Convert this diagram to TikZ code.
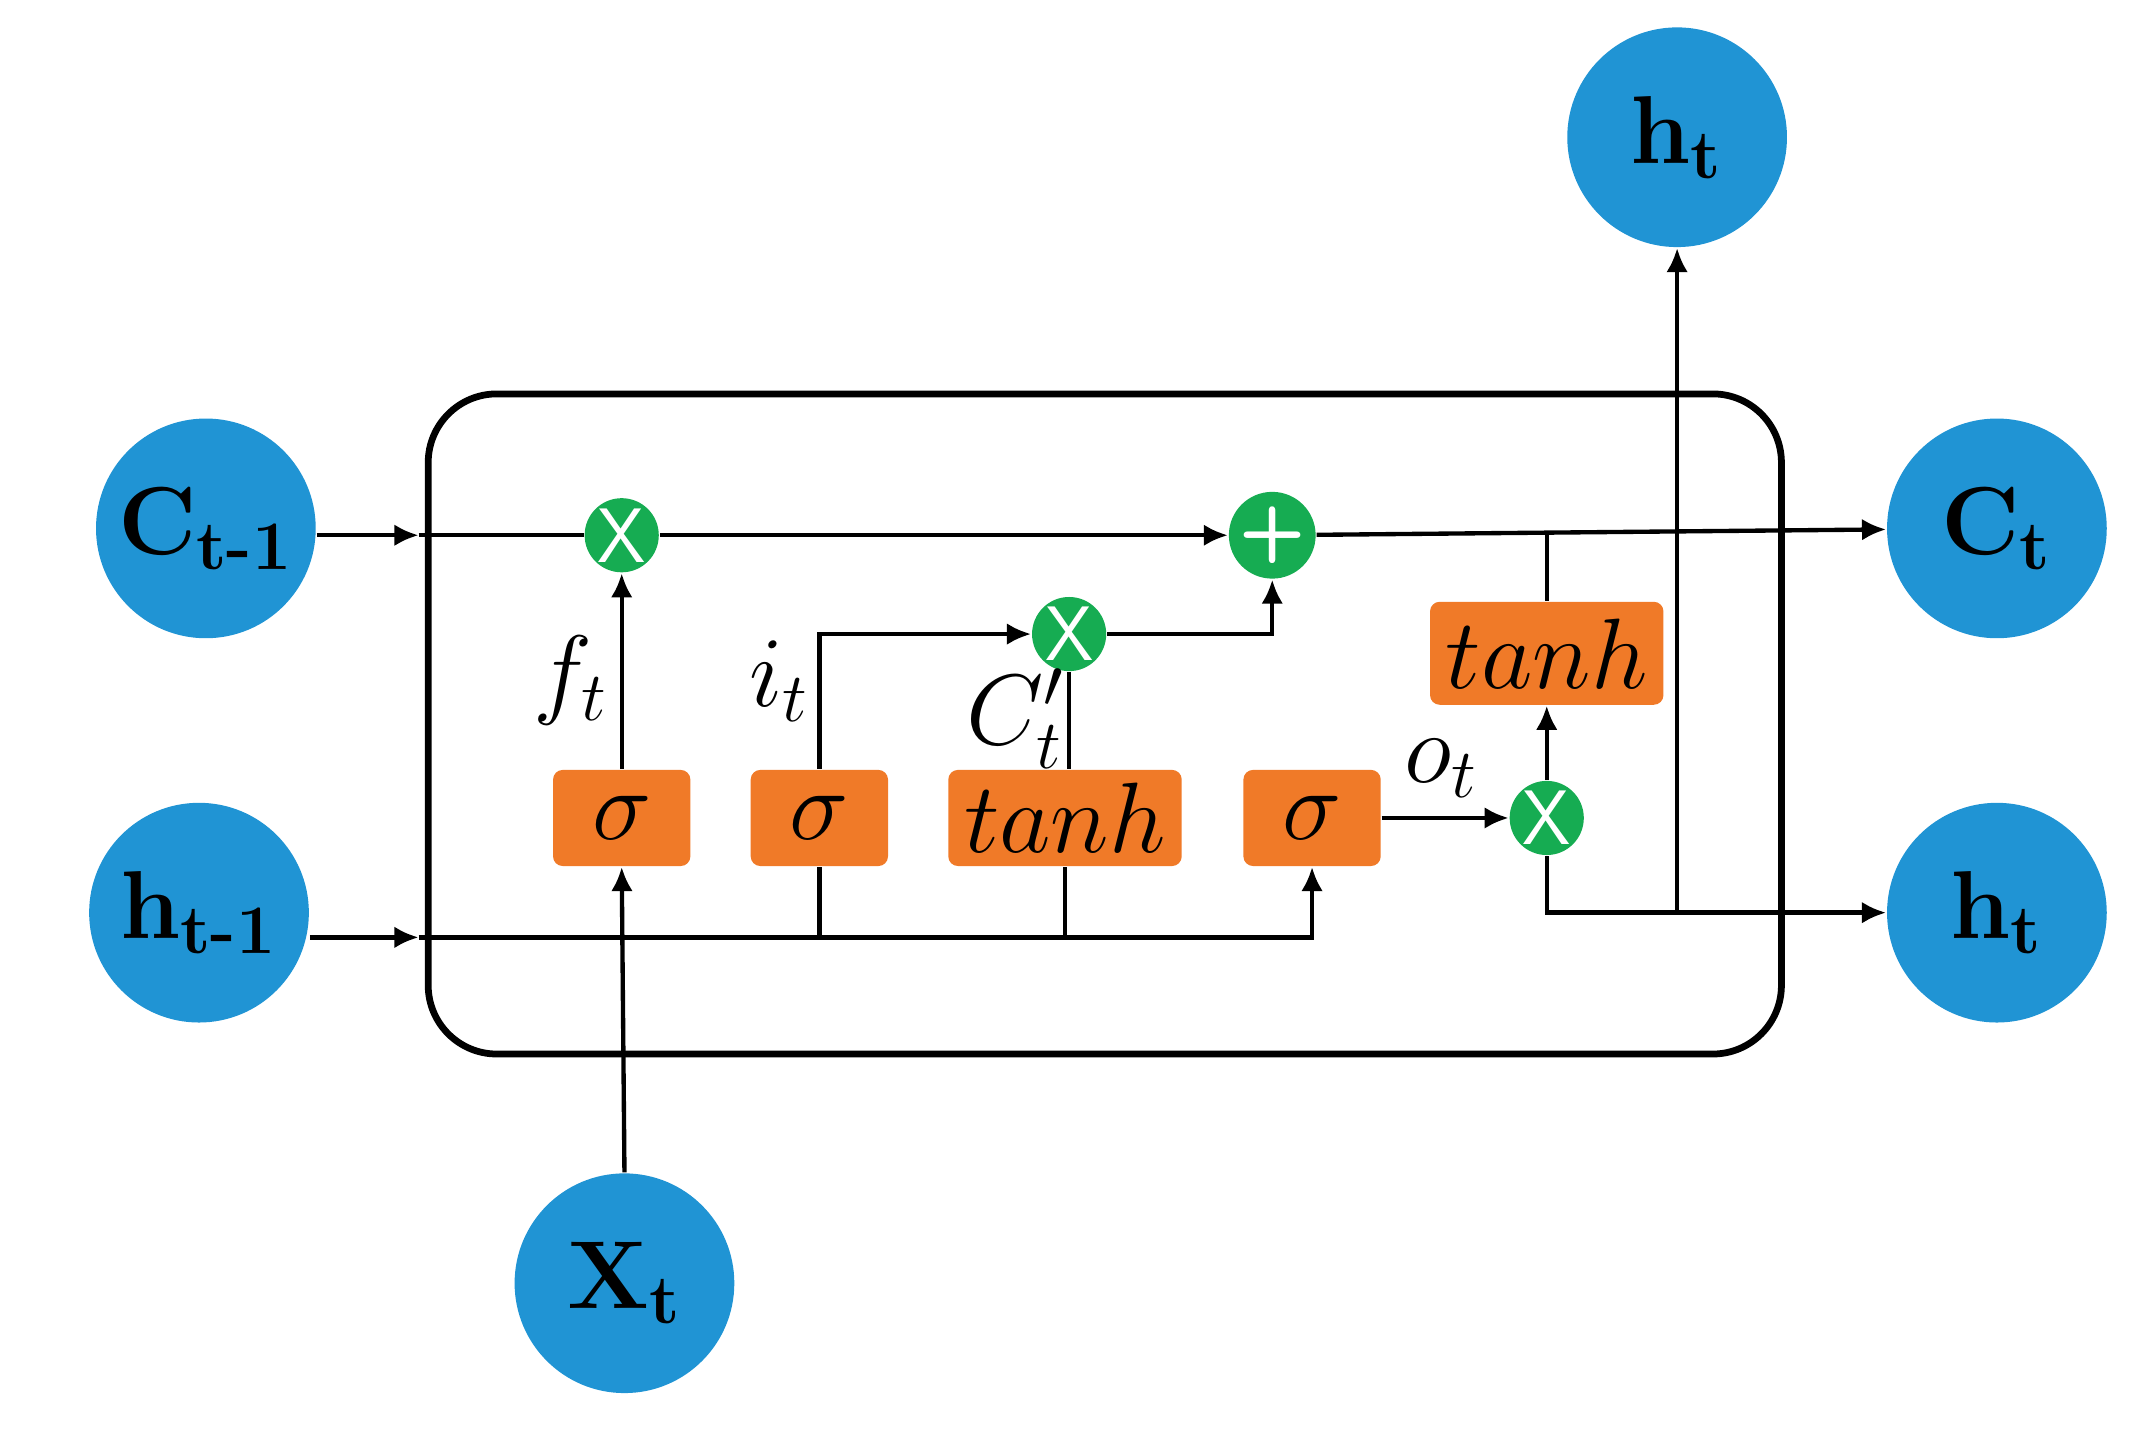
\documentclass[tikz,border=0pt]{standalone}
\usepackage{amsmath}
\usetikzlibrary{arrows.meta}
\begin{document}
\begin{tikzpicture}[x=0.01cm,y=0.01cm,
 big/.style={circle,fill=blueC,minimum size=1.6cm,inner sep=0,font=\fontsize{20}{24}\selectfont\bfseries},
 op/.style={circle,fill=greenC,minimum size=0.54cm,inner sep=0,text=white,font=\fontsize{16}{18}\selectfont\sffamily},
 gate/.style={fill=orangeC,rounded corners=2pt,minimum height=0.7cm,inner sep=0,font=\fontsize{22}{24}\selectfont},
 ar/.style={-{Latex[length=5pt,width=4.5pt]},line width=0.9pt},
 ln/.style={line width=0.9pt},
 lab/.style={font=\fontsize{21}{24}\selectfont}]
\definecolor{blueC}{RGB}{32,148,212}
\definecolor{greenC}{RGB}{22,172,82}
\definecolor{orangeC}{RGB}{240,122,40}
\useasboundingbox (0,0) rectangle (1568,-1043);
\draw[line width=1.4pt,rounded corners=0.5cm] (312,-287) rectangle (1298,-768);
\node[big] (c0) at (150,-385) {C$_{\mathbf{t\text{-}1}}$};
\node[big] (h0) at (145,-665) {h$_{\mathbf{t\text{-}1}}$};
\node[big] (x) at (455,-935) {X$_{\mathbf{t}}$};
\node[big] (ht) at (1222,-100) {h$_{\mathbf{t}}$};
\node[big] (c1) at (1455,-385) {C$_{\mathbf{t}}$};
\node[big] (h1) at (1455,-665) {h$_{\mathbf{t}}$};
\node[op] (m1) at (453,-390) {X};
\node[op] (p) at (927,-390) {\textbf{+}};
\node[op] (m2) at (779,-462) {X};
\node[op] (m3) at (1127,-596) {X};
\node[gate,minimum width=1cm] (s1) at (453,-596) {$\sigma$};
\node[gate,minimum width=1cm] (s2) at (597,-596) {$\sigma$};
\node[gate,minimum width=1.7cm] (t1) at (776,-596) {$tanh$};
\node[gate,minimum width=1cm] (s3) at (956,-596) {$\sigma$};
\node[gate,minimum width=1.7cm,minimum height=0.75cm] (t2) at (1127,-476) {$tanh$};
\coordinate (e1) at (305,-390);
\coordinate (e2) at (305,-683);
\coordinate (hy) at (956,-683);
\coordinate (cj) at (1127,-390);
\coordinate (hb) at (1222,-665);
\coordinate (iy) at (597,-462);
% cell line
\draw[ar] (c0.east|-e1) -- (e1);
\draw[ln] (e1) -- (m1);
\draw[ar] (m1) -- (p);
\draw[ar] (p) -- (c1);
% hidden line
\draw[ar] (h0.east|-e2) -- (e2);
\draw[ar] (e2) -- (hy) -- (s3.south);
\draw[ar] (x.north) -- (s1.south);
\draw[ln] (s2.south) -- (s2.south|-hy);
\draw[ln] (t1.south) -- (t1.south|-hy);
% gates
\draw[ar] (s1) -- (m1);
\draw[ar] (s2.north) -- (iy) -- (m2.west);
\draw[ln] (m2.south) -- (m2.south|-t1.north);
\draw[ar] (m2.east) -- (p.south|-m2.east) -- (p.south);
\draw[ar] (s3.east) -- (m3.west);
\draw[ar] (m3.north) -- (t2.south);
\draw[ln] (t2.north) -- (cj);
\draw[ar] (m3.south) |- (h1.west);
\draw[ar] (hb) -- (ht.south);
% labels
\node[lab] at (416,-496) {$f_t$};
\node[lab] at (568,-496) {$i_t$};
\node[lab] at (740,-524) {$C_t'$};
\node[lab] at (1050,-560) {$o_t$};
\end{tikzpicture}
\end{document}
